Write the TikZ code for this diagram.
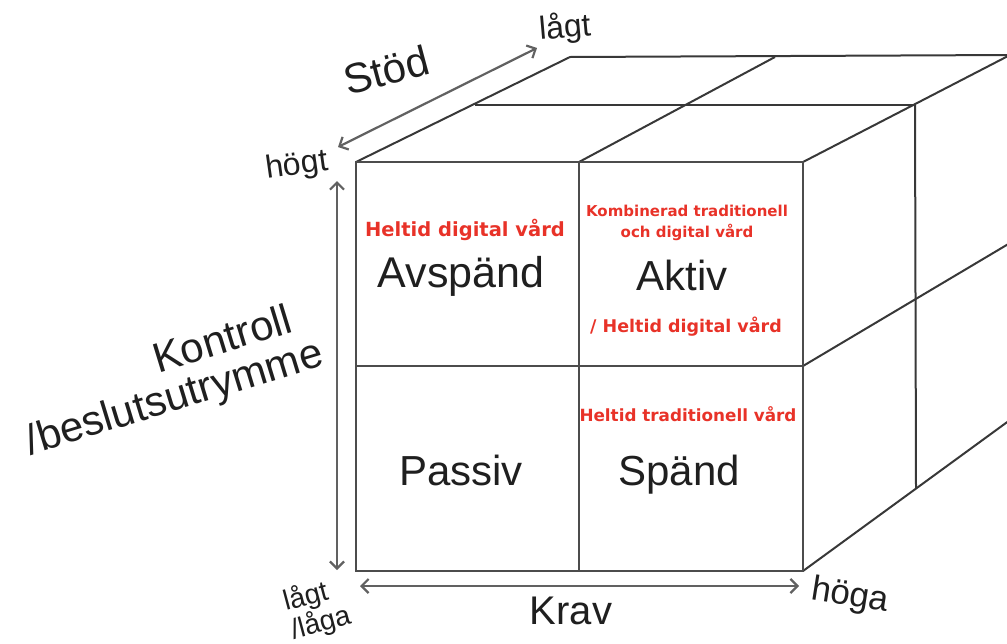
\documentclass[tikz,border=0pt]{standalone}
\usepackage{fontspec}
\setmainfont{Liberation Sans}
\newfontfamily\redfont{DejaVu Sans}
\usetikzlibrary{arrows.meta}
\definecolor{redtxt}{RGB}{232,50,40}
\begin{document}
\begin{tikzpicture}[x=1pt,y=-1pt,
  edge/.style={draw=black!70,line width=2.6pt},
  thinedge/.style={draw=black!78,line width=2pt},
  axisarrow/.style={draw=black!62,line width=2.2pt,{Straight Barb[length=7pt,width=14pt]}-{Straight Barb[length=7pt,width=14pt]}},
  big/.style={inner sep=0pt,outer sep=0pt,font=\fontsize{42}{42}\selectfont,text=black!88},
  small/.style={inner sep=0pt,outer sep=0pt,font=\fontsize{32}{32}\selectfont,text=black!88},
  redlbl/.style={inner sep=0pt,outer sep=0pt,text=redtxt},
]
\useasboundingbox (0,0) rectangle (1007,643);
\clip (0,0) rectangle (1007,643);
% front face corners
\coordinate (F1) at (356,162);
\coordinate (F2) at (579,162);
\coordinate (F3) at (803,162);
\coordinate (M1) at (356,366);
\coordinate (M3) at (803,366);
\coordinate (B1) at (356,571);
\coordinate (B2) at (579,571);
\coordinate (B3) at (803,571);
% top face
\coordinate (T1) at (475,105);
\coordinate (T3) at (915,105);
\coordinate (K1) at (570,57);
\coordinate (K2) at (775,57);
\coordinate (K3) at (1010,55);
% right face
\coordinate (R2) at (1010,243);
\coordinate (R3) at (1010,420);
\coordinate (V3) at (916,488);
% arrows
\coordinate (ay1) at (337,570);
\coordinate (ay2) at (337,181);
\coordinate (ax1) at (360,586);
\coordinate (ax2) at (799,586);
\coordinate (az1) at (338,147);
\coordinate (az2) at (537,48);

% top face lines
\draw[thinedge] (F1) -- (K1) -- (K3);
\draw[thinedge] (F2) -- (K2);
\draw[thinedge] (T1) -- (T3);
\draw[thinedge] (F3) -- (K3);
% right face lines
\draw[thinedge] (M3) -- (R2);
\draw[thinedge] (B3) -- (R3);
\draw[thinedge] (T3) -- (V3);
% front face
\draw[edge] (F1) rectangle (B3);
\draw[edge] (F2) -- (B2);
\draw[edge] (M1) -- (M3);

% axes
\draw[axisarrow] (ay1) -- (ay2);
\draw[axisarrow] (ax1) -- (ax2);
\draw[axisarrow] (az1) -- (az2);

% axis labels
\node[big,rotate=15] (stod) at (386,70) {Stöd};
\node[small,rotate=5] (lagttop) at (565,28) {lågt};
\node[small,rotate=8] (hogt) at (297,166) {högt};
\node[big,rotate=17,align=right,font=\fontsize{42}{41}\selectfont] (kontroll) at (169,380) {Kontroll\hspace*{20pt}\\/beslutsutrymme};
\node[small,rotate=15,align=left,font=\fontsize{28}{27}\selectfont] (lagtbot) at (317,609) {lågt\\/låga};
\node[big,anchor=base,font=\fontsize{40}{40}\selectfont] (krav) at (571,624) {Krav};
\node[small,rotate=-9,font=\fontsize{35}{35}\selectfont] (hoga) at (850,597) {höga};

% quadrant labels
\node[big,anchor=base,font=\fontsize{43}{43}\selectfont] (avspand) at (461,287) {Avspänd};
\node[big,anchor=base] (aktiv) at (682,290) {Aktiv};
\node[big,anchor=base] (passiv) at (461,485) {Passiv};
\node[big,anchor=base] (spand) at (679,485) {Spänd};

% red annotations
\node[redlbl,anchor=base,font=\redfont\bfseries\fontsize{19.5}{20}\selectfont] (r1) at (465,236) {Heltid digital vård};
\node[redlbl,anchor=base,font=\redfont\bfseries\fontsize{15}{15}\selectfont] (r2) at (687,216) {Kombinerad traditionell};
\node[redlbl,anchor=base,font=\redfont\bfseries\fontsize{15}{15}\selectfont] (r3) at (687,237.5) {och digital vård};
\node[redlbl,anchor=base,font=\redfont\bfseries\fontsize{17.5}{18}\selectfont] (r4) at (686,332) {/ Heltid digital vård};
\node[redlbl,anchor=base,font=\redfont\bfseries\fontsize{16.8}{17}\selectfont] (r5) at (688,421.5) {Heltid traditionell vård};
\end{tikzpicture}
\end{document}
